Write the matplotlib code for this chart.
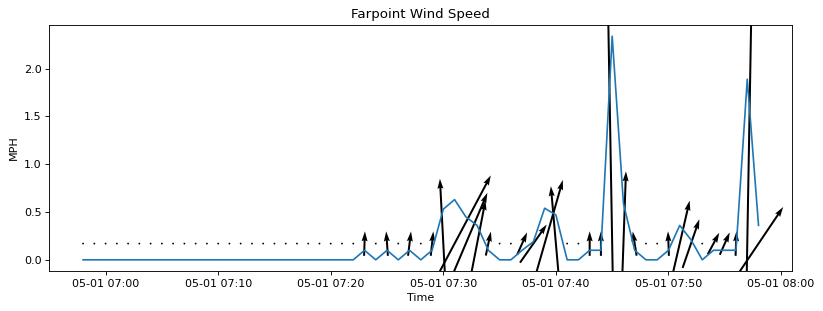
import numpy as np
import pandas as pd
import matplotlib
matplotlib.use("Agg")
import matplotlib.pyplot as plt
import matplotlib.dates as mdates

# one sample per minute, 06:58 -> 07:58
times = pd.date_range("2023-05-01 06:58", "2023-05-01 07:58", freq="1min")

speed_mph = [0.0] * 25 + [
    0.1, 0.0, 0.1, 0.0, 0.1, 0.0, 0.1,          # 07:23 - 07:29
    0.53, 0.63, 0.45, 0.36, 0.1, 0.0, 0.0,      # 07:30 - 07:36
    0.1, 0.19, 0.54, 0.47, 0.0, 0.0, 0.1,       # 07:37 - 07:43
    0.1, 2.34, 0.59, 0.1, 0.0, 0.0, 0.1,        # 07:44 - 07:50
    0.36, 0.21, 0.0, 0.1, 0.1, 0.1, 1.89,       # 07:51 - 07:57
    0.36,                                       # 07:58
]

# bearing the wind blows toward, degrees clockwise from north (up)
direction_deg = [0] * 25 + [
    2, 0, -4, 0, 7, 0, 6,
    -3, 28, 23, 11, 12, 0, 0,
    24, 35, 16, -5, 0, 0, 0,
    0, -1, 2, -9, 0, 0, -2,
    13, 19, 0, 28, 24, 2, 1,
    34,
]

arrow_level = 0.17

speed = np.array(speed_mph)
rad = np.deg2rad(direction_deg)
u = speed * np.sin(rad)
v = speed * np.cos(rad)

fig = plt.figure(figsize=(823 / 80, 311 / 80), dpi=80)
ax = fig.add_axes([0.0599, 0.1286, 0.9028, 0.791])

ax.plot(times, speed, color="C0")

x = mdates.date2num(times.to_pydatetime())
ax.quiver(x, np.full(len(x), arrow_level), u, v, pivot="middle",
          scale_units="dots", scale=1 / 245.0, width=0.0027, color="k")

ax.xaxis.set_major_locator(mdates.MinuteLocator(byminute=range(0, 60, 10)))
ax.xaxis.set_major_formatter(mdates.DateFormatter("%m-%d %H:%M"))

ax.set_title("Farpoint Wind Speed")
ax.set_xlabel("Time")
ax.set_ylabel("MPH")

fig.savefig("out.png", dpi=80)
